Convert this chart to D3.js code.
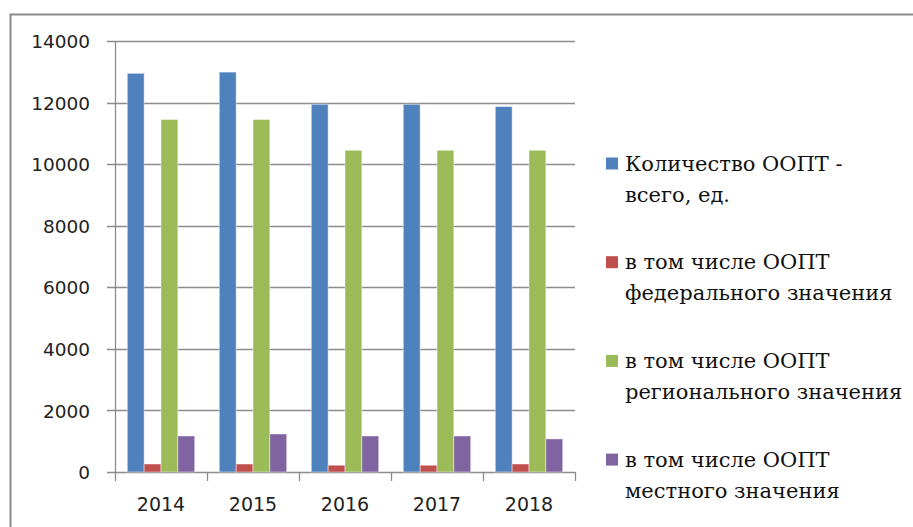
<!DOCTYPE html>
<html>
<head>
<meta charset="utf-8">
<script src="https://cdn.jsdelivr.net/npm/d3@7"></script>
<style>
  body { margin: 0; background: #fff; }
  svg { display: block; }
</style>
</head>
<body>
<div id="chart"></div>
<script>
// data
var years = ["2014", "2015", "2016", "2017", "2018"];
var seriesNames = [
    ["Количество ООПТ -", "всего, ед."],
    ["в том числе ООПТ", "федерального значения"],
    ["в том числе ООПТ", "регионального значения"],
    ["в том числе ООПТ", "местного значения"]
];
var totalAll = [12950, 12990, 11945, 11945, 11870];
var federal = [260, 260, 220, 220, 260];
var regional = [11450, 11450, 10450, 10450, 10450];
var local = [1170, 1235, 1170, 1170, 1075];
var yTicks = [0, 2000, 4000, 6000, 8000, 10000, 12000, 14000];
var colors = ["#4f81bd", "#c0504d", "#9bbb59", "#8064a2"];

var seriesValues = [totalAll, federal, regional, local];

var svgWidth = 913;
var svgHeight = 527;

var margin = { top: 41, left: 115, plotRight: 575, bottom: 472 };

var svg = d3.select("#chart")
    .append("svg")
    .attr("width", svgWidth)
    .attr("height", svgHeight);

// chart frame (right and bottom edge fall off the picture)
svg.append("path")
    .attr("d", "M10.5," + svgHeight + " V14.5 H" + svgWidth)
    .attr("fill", "none")
    .attr("stroke", "#898989")
    .attr("stroke-width", 2);

var xScale = d3.scaleBand()
    .domain(years)
    .range([margin.left, margin.plotRight]);

var xInner = d3.scaleBand()
    .domain(d3.range(seriesValues.length))
    .range([0, xScale.bandwidth()])
    .paddingInner(0)
    .paddingOuter(0.73);

var yScale = d3.scaleLinear()
    .domain([0, 14000])
    .range([margin.bottom, margin.top]);

// gridlines, extended left to make the tick marks
svg.append("g")
    .selectAll("line")
    .data(yTicks)
    .enter()
    .append("line")
    .attr("x1", margin.left - 8)
    .attr("x2", margin.plotRight)
    .attr("y1", d => Math.round(yScale(d)) + 0.5)
    .attr("y2", d => Math.round(yScale(d)) + 0.5)
    .attr("stroke", "#8c8c8c")
    .attr("stroke-width", 1.3);

// y axis labels
var yAxis = d3.axisLeft(yScale)
    .tickValues(yTicks)
    .tickFormat(d3.format("d"))
    .tickSize(0)
    .tickPadding(0);

var yAxisG = svg.append("g")
    .attr("transform", "translate(90, 0)")
    .call(yAxis);
yAxisG.select(".domain").remove();
yAxisG.selectAll("text")
    .attr("font-family", "'DejaVu Sans', sans-serif")
    .attr("font-size", 18.5)
    .attr("fill", "#222")
    .attr("dy", "0.36em");

// y axis line
svg.append("line")
    .attr("x1", margin.left + 0.5)
    .attr("x2", margin.left + 0.5)
    .attr("y1", yScale(14000))
    .attr("y2", yScale(0))
    .attr("stroke", "#8c8c8c")
    .attr("stroke-width", 1.3);

// x axis ticks at band edges
var edges = years.map(d => xScale(d)).concat([margin.plotRight]);
svg.append("g")
    .selectAll("line")
    .data(edges)
    .enter()
    .append("line")
    .attr("x1", d => Math.round(d) + 0.5)
    .attr("x2", d => Math.round(d) + 0.5)
    .attr("y1", yScale(0))
    .attr("y2", yScale(0) + 9)
    .attr("stroke", "#8c8c8c")
    .attr("stroke-width", 1.3);

// x labels
svg.append("g")
    .selectAll("text")
    .data(years)
    .enter()
    .append("text")
    .attr("x", d => xScale(d) + xScale.bandwidth() / 2)
    .attr("y", 511)
    .attr("text-anchor", "middle")
    .attr("font-family", "'DejaVu Sans', sans-serif")
    .attr("font-size", 19)
    .attr("fill", "#222")
    .text(d => d);

// bars
seriesValues.forEach(function(vals, i) {
    svg.append("g")
        .selectAll("rect")
        .data(vals)
        .enter()
        .append("rect")
        .attr("x", (d, j) => xScale(years[j]) + xInner(i))
        .attr("y", d => yScale(d))
        .attr("width", xInner.bandwidth())
        .attr("height", d => yScale(0) - yScale(d))
        .attr("fill", colors[i])
        .attr("stroke", "rgba(255,255,255,0.45)")
        .attr("stroke-width", 1);
});

// legend
var legend = svg.append("g")
    .attr("transform", "translate(606, 0)");

var legendItems = legend.selectAll("g")
    .data(seriesNames)
    .enter()
    .append("g")
    .attr("transform", (d, i) => "translate(0," + (170.5 + i * 98.7) + ")");

legendItems.append("rect")
    .attr("x", 0)
    .attr("y", -13)
    .attr("width", 12)
    .attr("height", 12)
    .attr("fill", (d, i) => colors[i]);

// serif legend text, as in the reference
legendItems.append("text")
    .attr("x", 19)
    .attr("y", 0)
    .attr("fill", "#111")
    .selectAll("tspan")
    .data(d => d)
    .enter()
    .append("tspan")
    .attr("x", 19)
    .attr("dy", (d, i) => i === 0 ? 0 : 31)
    .style("font-family", "DejaVu Serif, serif")
    .style("font-size", "21px")
    .text(d => d);
</script>
</body>
</html>
